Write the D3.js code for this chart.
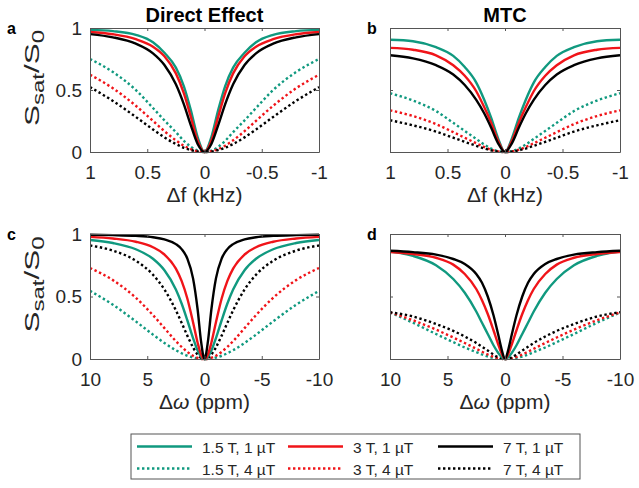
<!DOCTYPE html>
<html>
<head>
<meta charset="utf-8">
<script src="https://cdn.jsdelivr.net/npm/d3@7"></script>
<style>
  body { margin: 0; background: #fff; }
  svg text { font-family: "Liberation Sans", Arial, sans-serif; }
</style>
</head>
<body>
<svg id="chart" width="639" height="488"></svg>
<script>
// ---------- data ----------
const khzOffsets = [1, 0.8, 0.6, 0.45, 0.35, 0.25, 0.18, 0.12, 0.06, 0, -0.06, -0.12, -0.18, -0.25, -0.35, -0.45, -0.6, -0.8, -1];
const ppmOffsets = [10, 8, 6, 4.5, 3.5, 2.5, 2, 1.5, 1, 0.6, 0.3, 0, -0.3, -0.6, -1, -1.5, -2, -2.5, -3.5, -4.5, -6, -8, -10];

const khzTicks = [1, 0.5, 0, -0.5, -1];
const khzTickLabels = ["1", "0.5", "0", "-0.5", "-1"];
const ppmTicks = [10, 5, 0, -5, -10];
const ppmTickLabels = ["10", "5", "0", "-5", "-10"];
const yTicks = [0, 0.5, 1];
const yTickLabels = ["0", "0.5", "1"];

const seriesNames = ["1.5 T, 1 \u00B5T", "3 T, 1 \u00B5T", "7 T, 1 \u00B5T", "1.5 T, 4 \u00B5T", "3 T, 4 \u00B5T", "7 T, 4 \u00B5T"];

// (a) Direct effect vs kHz
const aT15B1 = [0.985,0.975,0.945,0.885,0.80,0.68,0.53,0.34,0.12,0,0.12,0.34,0.53,0.68,0.80,0.885,0.945,0.975,0.985];
const aT3B1  = [0.968,0.95,0.91,0.849,0.772,0.634,0.473,0.285,0.091,0,0.091,0.285,0.473,0.634,0.772,0.849,0.91,0.95,0.968];
const aT7B1  = [0.951,0.925,0.874,0.796,0.702,0.546,0.384,0.217,0.065,0,0.065,0.217,0.384,0.546,0.702,0.796,0.874,0.925,0.951];
const aT15B4 = [0.75,0.645,0.50,0.355,0.255,0.16,0.09,0.042,0.011,0,0.011,0.042,0.09,0.16,0.255,0.355,0.50,0.645,0.75];
const aT3B4  = [0.623,0.514,0.373,0.251,0.168,0.094,0.051,0.023,0.006,0,0.006,0.023,0.051,0.094,0.168,0.251,0.373,0.514,0.623];
const aT7B4  = [0.523,0.412,0.283,0.182,0.118,0.064,0.034,0.016,0.004,0,0.004,0.016,0.034,0.064,0.118,0.182,0.283,0.412,0.523];

// (b) MTC vs kHz
const bT15B1 = [0.905,0.893,0.845,0.775,0.685,0.56,0.42,0.275,0.11,0,0.11,0.275,0.42,0.56,0.685,0.775,0.845,0.893,0.905];
const bT3B1  = [0.84,0.825,0.78,0.70,0.615,0.49,0.36,0.235,0.09,0,0.09,0.235,0.36,0.49,0.615,0.70,0.78,0.825,0.84];
const bT7B1  = [0.78,0.755,0.70,0.625,0.54,0.42,0.31,0.195,0.07,0,0.07,0.195,0.31,0.42,0.54,0.625,0.70,0.755,0.78];
const bT15B4 = [0.474,0.415,0.33,0.235,0.17,0.105,0.06,0.028,0.007,0,0.007,0.028,0.06,0.105,0.17,0.235,0.33,0.415,0.474];
const bT3B4  = [0.336,0.29,0.225,0.16,0.115,0.07,0.04,0.018,0.005,0,0.005,0.018,0.04,0.07,0.115,0.16,0.225,0.29,0.336];
const bT7B4  = [0.256,0.215,0.165,0.115,0.082,0.05,0.028,0.013,0.003,0,0.003,0.013,0.028,0.05,0.082,0.115,0.165,0.215,0.256];

// (c) Direct effect vs ppm
const cT15B1 = [0.952,0.928,0.878,0.802,0.71,0.556,0.444,0.31,0.167,0.067,0.018,0,0.018,0.067,0.167,0.31,0.444,0.556,0.71,0.802,0.878,0.928,0.952];
const cT3B1  = [0.977,0.964,0.938,0.894,0.836,0.723,0.625,0.484,0.294,0.13,0.036,0,0.036,0.13,0.294,0.484,0.625,0.723,0.836,0.894,0.938,0.964,0.977];
const cT7B1  = [0.994,0.991,0.985,0.974,0.957,0.919,0.879,0.804,0.645,0.396,0.141,0,0.141,0.396,0.645,0.804,0.879,0.919,0.957,0.974,0.985,0.991,0.994];
const cT15B4 = [0.545,0.434,0.301,0.195,0.128,0.07,0.046,0.026,0.012,0.004,0.001,0,0.001,0.004,0.012,0.026,0.046,0.07,0.128,0.195,0.301,0.434,0.545];
const cT3B4  = [0.728,0.631,0.49,0.351,0.247,0.143,0.097,0.057,0.026,0.0095,0.0024,0,0.0024,0.0095,0.026,0.057,0.097,0.143,0.247,0.351,0.49,0.631,0.728];
const cT7B4  = [0.908,0.867,0.786,0.674,0.556,0.389,0.29,0.187,0.093,0.035,0.009,0,0.009,0.035,0.093,0.187,0.29,0.389,0.556,0.674,0.786,0.867,0.908];

// (d) MTC vs ppm
const dT15B1 = [0.86,0.825,0.75,0.64,0.53,0.38,0.29,0.2,0.11,0.05,0.015,0,0.015,0.05,0.11,0.2,0.29,0.38,0.53,0.64,0.75,0.825,0.86];
const dT3B1  = [0.855,0.84,0.81,0.755,0.68,0.56,0.47,0.36,0.23,0.12,0.045,0,0.045,0.12,0.23,0.36,0.47,0.56,0.68,0.755,0.81,0.84,0.855];
const dT7B1  = [0.866,0.855,0.835,0.8,0.76,0.68,0.61,0.5,0.35,0.2,0.08,0,0.08,0.2,0.35,0.5,0.61,0.68,0.76,0.8,0.835,0.855,0.866];
const dT15B4 = [0.372,0.29,0.2,0.135,0.092,0.055,0.036,0.02,0.009,0.003,0.001,0,0.001,0.003,0.009,0.02,0.036,0.055,0.092,0.135,0.2,0.29,0.372];
const dT3B4  = [0.373,0.31,0.235,0.172,0.128,0.082,0.058,0.036,0.017,0.006,0.0015,0,0.0015,0.006,0.017,0.036,0.058,0.082,0.128,0.172,0.235,0.31,0.373];
const dT7B4  = [0.374,0.34,0.28,0.225,0.18,0.128,0.098,0.068,0.036,0.014,0.004,0,0.004,0.014,0.036,0.068,0.098,0.128,0.18,0.225,0.28,0.34,0.374];

// ---------- styles ----------
const colors = ["#10997f", "#f01419", "#000000", "#10997f", "#f01419", "#000000"];
const dashed = [false, false, false, true, true, true];
const axisColor = "#555555";
const textColor = "#262626";
const font = '"Liberation Sans", Arial, sans-serif';

const panels = [
  { letter: "a", letterX: 7, title: "Direct Effect", x0: 90, x1: 319, y0: 28, y1: 152, xs: khzOffsets, ticks: khzTicks, tickLabels: khzTickLabels, domain: [1, -1], yLabels: true, xLabel: "f",
    series: [aT15B1, aT3B1, aT7B1, aT15B4, aT3B4, aT7B4] },
  { letter: "b", letterX: 367, title: "MTC", x0: 390, x1: 620, y0: 28, y1: 152, xs: khzOffsets, ticks: khzTicks, tickLabels: khzTickLabels, domain: [1, -1], yLabels: false, xLabel: "f",
    series: [bT15B1, bT3B1, bT7B1, bT15B4, bT3B4, bT7B4] },
  { letter: "c", letterX: 7, title: null, x0: 90, x1: 319, y0: 234, y1: 359, xs: ppmOffsets, ticks: ppmTicks, tickLabels: ppmTickLabels, domain: [10, -10], yLabels: true, xLabel: "w",
    series: [cT15B1, cT3B1, cT7B1, cT15B4, cT3B4, cT7B4] },
  { letter: "d", letterX: 367, title: null, x0: 390, x1: 620, y0: 234, y1: 359, xs: ppmOffsets, ticks: ppmTicks, tickLabels: ppmTickLabels, domain: [10, -10], yLabels: false, xLabel: "w",
    series: [dT15B1, dT3B1, dT7B1, dT15B4, dT3B4, dT7B4] }
];

const svg = d3.select("#chart");
svg.append("rect").attr("width", 639).attr("height", 488).attr("fill", "#fff");

panels.forEach((p, pi) => {
  const x = d3.scaleLinear().domain(p.domain).range([p.x0, p.x1]);
  const y = d3.scaleLinear().domain([0, 1]).range([p.y1, p.y0]);
  const g = svg.append("g");

  const clipId = "clip" + pi;
  svg.append("clipPath").attr("id", clipId).append("rect")
    .attr("x", p.x0).attr("y", p.y0 - 2).attr("width", p.x1 - p.x0).attr("height", p.y1 - p.y0 + 4);

  const line = d3.line().x((d, i) => x(p.xs[i])).y(d => y(d)).curve(d3.curveMonotoneX);
  const order = [3, 4, 5, 0, 1, 2];
  order.forEach(si => {
    g.append("path")
      .attr("d", line(p.series[si]))
      .attr("fill", "none")
      .attr("stroke", colors[si])
      .attr("stroke-width", 2.4)
      .attr("stroke-dasharray", dashed[si] ? "2.4,2.6" : null)
      .attr("clip-path", `url(#${clipId})`);
  });

  const bottom = d3.axisBottom(x).tickValues(p.ticks).tickFormat((d, i) => p.tickLabels[i])
    .tickSizeInner(-3).tickSizeOuter(0).tickPadding(14);
  const top = d3.axisTop(x).tickValues(p.ticks).tickFormat("").tickSizeInner(-3).tickSizeOuter(0);
  const left = d3.axisLeft(y).tickValues(yTicks).tickFormat((d, i) => p.yLabels ? yTickLabels[i] : "")
    .tickSizeInner(-3).tickSizeOuter(0).tickPadding(8);
  const right = d3.axisRight(y).tickValues(yTicks).tickFormat("").tickSizeInner(-3).tickSizeOuter(0);

  const styleAxis = sel => {
    sel.selectAll("path").attr("stroke", axisColor).attr("stroke-width", 1);
    sel.selectAll("line").attr("stroke", axisColor).attr("stroke-width", 1);
    sel.selectAll("text").attr("fill", textColor).style("font-size", "19px").style("font-family", font);
    sel.attr("font-family", null).attr("font-size", null);
  };
  g.append("g").attr("transform", `translate(0,${p.y1})`).call(bottom).call(styleAxis);
  g.append("g").attr("transform", `translate(0,${p.y0})`).call(top).call(styleAxis);
  g.append("g").attr("transform", `translate(${p.x0},0)`).call(left).call(styleAxis);
  g.append("g").attr("transform", `translate(${p.x1},0)`).call(right).call(styleAxis);

  const cx = (p.x0 + p.x1) / 2;
  const xl = g.append("text").attr("x", cx).attr("y", p.y1 + 50).attr("text-anchor", "middle")
    .attr("fill", textColor).style("font-size", "21px");
  if (p.xLabel === "f") {
    xl.text("\u0394f (kHz)");
  } else {
    xl.append("tspan").text("\u0394");
    xl.append("tspan").style("font-style", "italic").text("\u03C9");
    xl.append("tspan").text(" (ppm)");
  }

  if (p.yLabels) {
    const cy = (p.y0 + p.y1) / 2 - 12;
    const yl = g.append("text").attr("transform", `translate(39,${cy}) rotate(-90) scale(1.5,1)`)
      .attr("text-anchor", "middle").attr("fill", textColor).style("font-size", "21px");
    yl.append("tspan").text("S");
    yl.append("tspan").attr("dy", 5).style("font-size", "16px").text("sat");
    yl.append("tspan").attr("dy", -5).text("/S");
    yl.append("tspan").attr("dy", 5).style("font-size", "16px").text("0");
  }

  if (p.title) {
    g.append("text").attr("x", cx).attr("y", 22).attr("text-anchor", "middle")
      .attr("fill", "#000").style("font-size", "20px").style("font-weight", "bold").text(p.title);
  }
  g.append("text").attr("x", p.letterX).attr("y", p.y0 + 6)
    .attr("fill", "#000").style("font-size", "16px").style("font-weight", "bold").text(p.letter);
});

// ---------- legend ----------
const lg = svg.append("g");
lg.append("rect").attr("x", 131).attr("y", 434).attr("width", 449).attr("height", 45)
  .attr("fill", "#fff").attr("stroke", axisColor).attr("stroke-width", 1);
const colX = [137, 288, 438];
const rowY = [446.5, 468.5];
seriesNames.forEach((name, i) => {
  const col = i % 3, row = Math.floor(i / 3);
  lg.append("line").attr("x1", colX[col]).attr("x2", colX[col] + 55)
    .attr("y1", rowY[row]).attr("y2", rowY[row])
    .attr("stroke", colors[i]).attr("stroke-width", 2.4)
    .attr("stroke-dasharray", dashed[i] ? "2.4,2.6" : null);
  lg.append("text").attr("x", colX[col] + 65).attr("y", rowY[row] + 6)
    .attr("fill", textColor).style("font-size", "15.5px").text(name);
});
</script>
</body>
</html>
